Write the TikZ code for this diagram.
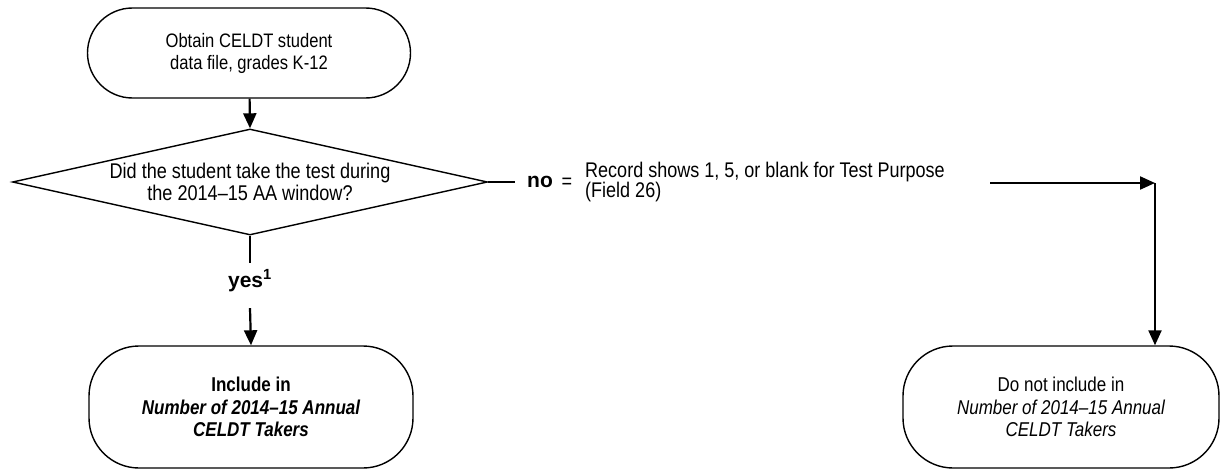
\documentclass[tikz,border=0pt]{standalone}
\usepackage{fontspec}
\setmainfont{Liberation Sans}[FakeStretch=0.85]
\newfontfamily\lblfont{Liberation Sans}
\usetikzlibrary{shapes.geometric,arrows.meta}
\tikzset{
  box/.style={draw, line width=1.4pt, align=center, inner sep=0pt,
    font=\fontsize{20}{22.5}\selectfont},
  term/.style={box, rounded corners=45pt, minimum width=323pt, minimum height=90pt,
    font=\fontsize{19.5}{22}\selectfont},
  endbox/.style={box, rounded corners=50pt, minimum height=122pt},
  dec/.style={box, diamond, aspect=4.5, minimum width=475pt, minimum height=106pt,
    font=\fontsize{21.3}{22.5}\selectfont},
  arr/.style={line width=2.2pt, -{Triangle[length=15pt,width=13pt]}},
  conn/.style={line width=2.2pt},
  lbl/.style={font=\lblfont\bfseries\fontsize{21}{24}\selectfont, inner sep=0pt},
  txt/.style={font=\fontsize{21.2}{20.5}\selectfont, align=left, inner sep=0pt},
}
\begin{document}
\begin{tikzpicture}[x=1pt,y=-1pt]
\useasboundingbox (0,0) rectangle (1221,471);
\node[term] (top) at (249,53) {Obtain CELDT student\\data file, grades K-12};
\node[dec] (dia) at (250,182) {Did the student take the test during\\the 2014–15 AA window?};
\node[lbl, minimum height=45pt, text height=10pt, text depth=6pt] (yes) at (250,285.5) {yes\textsuperscript{1}};
\node[endbox, minimum width=324pt] (inc) at (251,407)
  {\bfseries Include in\\\bfseries\itshape Number of 2014–15 Annual\\\bfseries\itshape CELDT Takers};
\node[endbox, minimum width=316pt] (exc) at (1061,407)
  {Do not include in\\\itshape Number of 2014–15 Annual\\\itshape CELDT Takers};
\node[lbl, anchor=west, inner xsep=12pt] (no) at (515,182) {no};
\node[txt] (eq) at (567,183) {=};
\node[txt, anchor=west] (rec) at (585,182) {Record shows 1, 5, or blank for Test Purpose\\(Field 26)};
\coordinate (h0) at (990,183);
\coordinate (h1) at (1155,183);
\draw[arr] (top) -- (dia.north);
\draw[conn] (dia.south) -- (yes.north);
\draw[arr] (yes.south) -- (inc.north);
\draw[conn] (dia.east) -- (no.west);
\draw[arr] (h0) -- (h1);
\draw[arr] (h1) -- (h1 |- exc.north);
\end{tikzpicture}
\end{document}
